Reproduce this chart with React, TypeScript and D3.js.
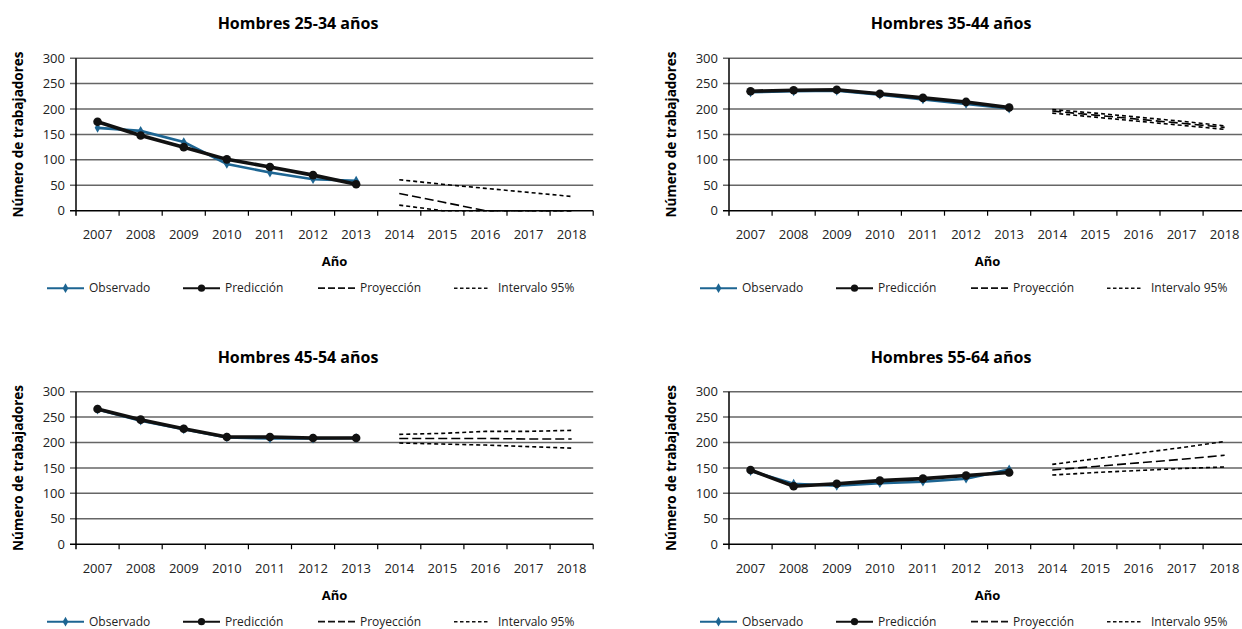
import React from "react"
import * as d3 from "d3"

// years on the x axis
const years = ["2007", "2008", "2009", "2010", "2011", "2012", "2013", "2014", "2015", "2016", "2017", "2018"]
const obsYears = years.slice(0, 7)
const projYears = years.slice(7)
const yTicks = [0, 50, 100, 150, 200, 250, 300]

const titles = ["Hombres 25-34 años", "Hombres 35-44 años", "Hombres 45-54 años", "Hombres 55-64 años"]

// Hombres 25-34
const obs2534 = [163, 157, 135, 92, 75, 62, 59]
const pred2534 = [175, 148, 125, 101, 86, 70, 52]
const proy2534 = [34, 17, 0, 0, 0]
const upper2534 = [61, 52, 44, 36, 28]
const lower2534 = [11, 0, 0, 0, 0]

// Hombres 35-44
const obs3544 = [233, 235, 236, 228, 219, 210, 201]
const pred3544 = [235, 237, 238, 230, 222, 214, 203]
const proy3544 = [196, 188, 180, 172, 164]
const upper3544 = [199, 192, 184, 176, 167]
const lower3544 = [192, 184, 176, 168, 160]

// Hombres 45-54
const obs4554 = [265, 243, 226, 210, 208, 208, 209]
const pred4554 = [266, 245, 227, 211, 211, 209, 209]
const proy4554 = [208, 208, 208, 207, 207]
const upper4554 = [216, 218, 222, 222, 224]
const lower4554 = [199, 197, 195, 192, 189]

// Hombres 55-64
const obs5564 = [144, 119, 115, 120, 123, 129, 147]
const pred5564 = [146, 114, 119, 125, 129, 135, 141]
const proy5564 = [146, 153, 160, 167, 175]
const upper5564 = [157, 168, 179, 190, 202]
const lower5564 = [136, 141, 145, 149, 152]

const BLUE = "#1d6592"
const GRID = "#666666"
const FONT = "'Open Sans', sans-serif"

interface IPanel {
  ox: number
  oy: number
  title: string
  obs: number[]
  pred: number[]
  proy: number[]
  upper: number[]
  lower: number[]
}

const BAND = 43.1
const PLOT_H = 152.5

const Panel: React.FC<IPanel> = (props) => {
  const { ox, oy } = props
  const x = d3.scaleBand<string>().domain(years).range([ox, ox + BAND * years.length])
  const y = d3.scaleLinear().domain([0, 300]).range([oy + PLOT_H, oy])
  const cx = (yr: string) => (x(yr) as number) + x.bandwidth() / 2
  const [x0, x1] = x.range()

  const line = d3.line<[string, number]>().x(d => cx(d[0])).y(d => y(d[1]))
  const zip = (ys: string[], vs: number[]) => ys.map((yr, i) => [yr, vs[i]] as [string, number])
  const diamond = d3.symbol().type(d3.symbolDiamond).size(28)()

  const legY = oy + 230
  const legX = ox - 29
  const legItems = [
    { label: "Observado", kind: "obs" },
    { label: "Predicción", kind: "pred" },
    { label: "Proyección", kind: "proy" },
    { label: "Intervalo 95%", kind: "int" },
  ]
  const legOff = [0, 136, 271, 407]

  return (
    <g>
      <text x={ox + 222} y={oy - 29} textAnchor="middle" fontFamily={FONT} fontWeight="bold" fontSize={16}>
        {props.title}
      </text>
      {yTicks.map(t => (
        <g key={t}>
          <line x1={x0 - 6} x2={x1} y1={y(t)} y2={y(t)} stroke={t === 0 ? "#000" : GRID} strokeWidth={1.5} />
          <text x={x0 - 11} y={y(t)} dy="0.35em" textAnchor="end" fontFamily={FONT} fontSize={13} fill="#222">
            {t}
          </text>
        </g>
      ))}
      <line x1={x0} x2={x0} y1={y(300)} y2={y(0) + 5} stroke="#000" strokeWidth={1.5} />
      {years.map(yr => (
        <g key={yr}>
          <line x1={(x(yr) as number) + BAND} x2={(x(yr) as number) + BAND} y1={y(0)} y2={y(0) + 5} stroke="#000" strokeWidth={1.2} />
          <text x={cx(yr)} y={y(0) + 24} dy="0.35em" textAnchor="middle" fontFamily={FONT} fontSize={13} fill="#222">
            {yr}
          </text>
        </g>
      ))}
      <text x={(x0 + x1) / 2} y={y(0) + 51} dy="0.35em" textAnchor="middle" fontFamily={FONT} fontWeight="bold" fontSize={13}>
        Año
      </text>
      <text
        transform={`translate(${ox - 58},${oy + PLOT_H / 2}) rotate(-90)`}
        textAnchor="middle"
        dy="0.35em"
        fontFamily={FONT}
        fontWeight="bold"
        fontSize={13.5}
      >
        Número de trabajadores
      </text>

      {/* projection and 95% interval */}
      <path d={line(zip(projYears, props.upper)) as string} fill="none" stroke="#000" strokeWidth={1.6} strokeDasharray="4,3" />
      <path d={line(zip(projYears, props.lower)) as string} fill="none" stroke="#000" strokeWidth={1.6} strokeDasharray="4,3" />
      <path d={line(zip(projYears, props.proy)) as string} fill="none" stroke="#000" strokeWidth={1.6} strokeDasharray="9,4" />

      {/* observed */}
      <path d={line(zip(obsYears, props.obs)) as string} fill="none" stroke={BLUE} strokeWidth={2.6} />
      {zip(obsYears, props.obs).map(d => (
        <path key={"o" + d[0]} d={diamond as string} transform={`translate(${cx(d[0])},${y(d[1])})`} fill={BLUE} />
      ))}

      {/* prediction */}
      <path d={line(zip(obsYears, props.pred)) as string} fill="none" stroke="#111" strokeWidth={3.6} />
      {zip(obsYears, props.pred).map(d => (
        <circle key={"p" + d[0]} cx={cx(d[0])} cy={y(d[1])} r={4.3} fill="#111" />
      ))}

      {/* legend */}
      {legItems.map((it, i) => {
        const lx = legX + legOff[i]
        return (
          <g key={it.kind}>
            {it.kind === "obs" && (
              <>
                <line x1={lx} x2={lx + 37} y1={legY} y2={legY} stroke={BLUE} strokeWidth={2} />
                <path d={diamond as string} transform={`translate(${lx + 18.5},${legY})`} fill={BLUE} />
              </>
            )}
            {it.kind === "pred" && (
              <>
                <line x1={lx} x2={lx + 37} y1={legY} y2={legY} stroke="#111" strokeWidth={2} />
                <circle cx={lx + 18.5} cy={legY} r={3.6} fill="#111" />
              </>
            )}
            {it.kind === "proy" && (
              <line x1={lx} x2={lx + 37} y1={legY} y2={legY} stroke="#111" strokeWidth={1.8} strokeDasharray="7,3" />
            )}
            {it.kind === "int" && (
              <line x1={lx} x2={lx + 36} y1={legY} y2={legY} stroke="#111" strokeWidth={1.6} strokeDasharray="3.5,2.5" />
            )}
            <text x={lx + (it.kind === "int" ? 44 : 42)} y={legY} dy="0.35em" fontFamily={FONT} fontSize={12} fill="#222">
              {it.label}
            </text>
          </g>
        )
      })}
    </g>
  )
}

const App: React.FC = () => {
  const rowTop = [58.2, 391.7]
  const colX = [76, 729]
  return (
    <svg width={1242} height={629} style={{ position: "fixed", left: 0, top: 0, background: "#fff" }}>
      <rect width={1242} height={629} fill="#fff" />
      <Panel ox={colX[0]} oy={rowTop[0]} title={titles[0]} obs={obs2534} pred={pred2534} proy={proy2534} upper={upper2534} lower={lower2534} />
      <Panel ox={colX[1]} oy={rowTop[0]} title={titles[1]} obs={obs3544} pred={pred3544} proy={proy3544} upper={upper3544} lower={lower3544} />
      <Panel ox={colX[0]} oy={rowTop[1]} title={titles[2]} obs={obs4554} pred={pred4554} proy={proy4554} upper={upper4554} lower={lower4554} />
      <Panel ox={colX[1]} oy={rowTop[1]} title={titles[3]} obs={obs5564} pred={pred5564} proy={proy5564} upper={upper5564} lower={lower5564} />
    </svg>
  )
}

export default App
